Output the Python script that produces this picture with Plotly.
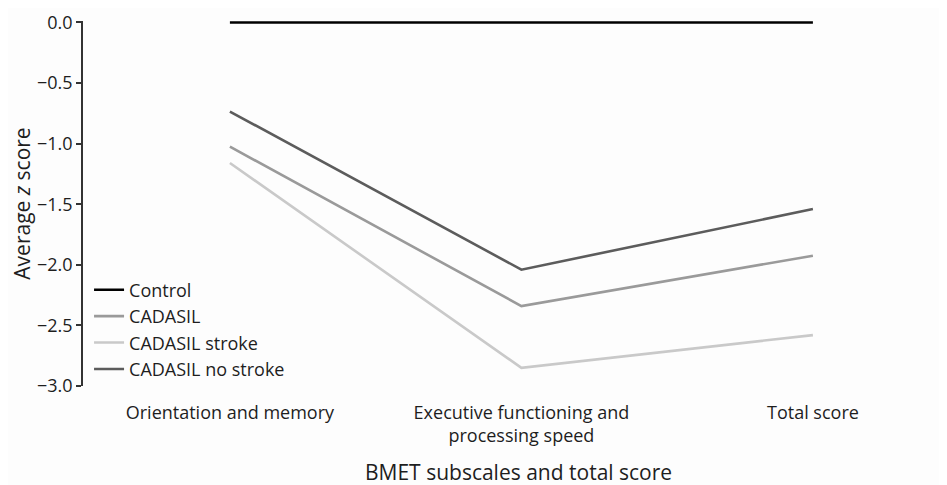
import plotly.graph_objects as go

categories = ["Orientation and memory", "Executive functioning and<br>processing speed", "Total score"]
x_pos = [0, 1, 2]
series_names = ["Control", "CADASIL", "CADASIL stroke", "CADASIL no stroke"]
control = [0.0, 0.0, 0.0]
cadasil = [-1.025, -2.34, -1.925]
cadasil_stroke = [-1.16, -2.85, -2.58]
cadasil_no_stroke = [-0.735, -2.04, -1.54]
y_ticks = [0.0, -0.5, -1.0, -1.5, -2.0, -2.5, -3.0]

colors = ["#000000", "#9a9a9a", "#c9c9c9", "#5c5c5c"]
values = [control, cadasil, cadasil_stroke, cadasil_no_stroke]

fig = go.Figure()
for name, vals, col in zip(series_names, values, colors):
    fig.add_trace(go.Scatter(x=x_pos, y=vals, mode="lines", name=name,
                             line=dict(color=col, width=2.6)))

font_family = "Open Sans"
fig.update_layout(
    width=939, height=477,
    margin=dict(l=75, r=0, t=13, b=99),
    paper_bgcolor="#fdfdfd", plot_bgcolor="#fdfdfd",
    font=dict(family=font_family, size=18, color="#1e1e1e"),
    showlegend=True,
    legend=dict(x=0.007, y=0.3135, xanchor="left", yanchor="top",
                bgcolor="rgba(0,0,0,0)", font=dict(size=18, color="#1e1e1e"),
                itemwidth=30, tracegroupgap=0),
    xaxis=dict(range=[-0.504, 2.46], tickvals=x_pos, ticktext=categories,
               showgrid=False, zeroline=False, showline=False, ticks="",
               ticklabelstandoff=14, tickfont=dict(size=18), automargin=False),
    yaxis=dict(range=[-3.0, 0.012], tickvals=y_ticks,
               ticktext=["0.0", "\u22120.5", "\u22121.0", "\u22121.5", "\u22122.0", "\u22122.5", "\u22123.0"],
               showgrid=False, zeroline=False, showline=True, linecolor="#333333", linewidth=1.5,
               ticks="outside", ticklen=5, tickcolor="#333333", tickwidth=1.5,
               tickfont=dict(size=18),
               title=dict(text="Average <i>z</i> score", font=dict(size=21), standoff=6)),
    annotations=[dict(text="BMET subscales and total score", xref="paper", yref="paper",
                      x=0.5046, y=-0.2345, xanchor="center", yanchor="middle",
                      showarrow=False, font=dict(size=21, color="#1e1e1e"))],
)

fig.write_html("out.html")
